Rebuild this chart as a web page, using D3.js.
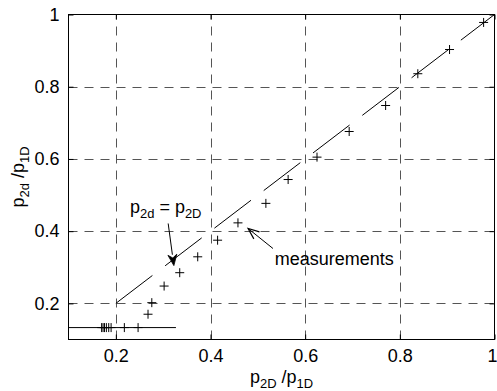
<!DOCTYPE html>
<html>
<head>
<meta charset="utf-8">
<script src="https://cdn.jsdelivr.net/npm/d3@7"></script>
<style>
  body { margin: 0; background: #fff; }
  svg text { font-family: Arial, "Liberation Sans", Helvetica, sans-serif; fill: #000; }
</style>
</head>
<body>
<svg id="chart" width="497" height="391"></svg>
<script>
// Measured normalised probabilities: p2D/p1D (x) against p2d/p1D (y)
const ratio2D = [0.170, 0.173, 0.176, 0.180, 0.185, 0.190, 0.218, 0.247, 0.268, 0.276, 0.302,
                 0.335, 0.373, 0.415, 0.458, 0.517, 0.564, 0.625, 0.693, 0.770, 0.838, 0.905, 0.977];
const ratio2d = [0.133, 0.133, 0.133, 0.133, 0.133, 0.133, 0.133, 0.133, 0.170, 0.202, 0.248,
                 0.285, 0.329, 0.375, 0.423, 0.477, 0.543, 0.605, 0.676, 0.748, 0.836, 0.903, 0.978];

// Reference line p2d = p2D and the lower floor level
const identityRange = [0.2, 1.0];
const floorLevel = 0.133;
const floorRange = [0.1, 0.327];

const xTicks = [0.2, 0.4, 0.6, 0.8, 1];
const yTicks = [0.2, 0.4, 0.6, 0.8, 1];
const xTickLabels = ["0.2", "0.4", "0.6", "0.8", "1"];
const yTickLabels = ["0.2", "0.4", "0.6", "0.8", "1"];

const svg = d3.select("#chart");
const L = 68.5, R = 494.5, T = 14.5, B = 339.5;

const x = d3.scaleLinear().domain([0.1, 1]).range([L, R]);
const y = d3.scaleLinear().domain([0.1, 1]).range([B, T]);

const FONT = 18;

// grid
const grid = svg.append("g")
  .attr("stroke", "#555").attr("stroke-width", 1).attr("stroke-dasharray", "9,7");
grid.selectAll(".gx").data(xTicks.filter(d => d < 1)).join("line")
  .attr("x1", d => Math.round(x(d)) + 0.5).attr("x2", d => Math.round(x(d)) + 0.5)
  .attr("y1", B).attr("y2", T);
grid.selectAll(".gy").data(yTicks.filter(d => d < 1)).join("line")
  .attr("y1", d => Math.round(y(d)) + 0.5).attr("y2", d => Math.round(y(d)) + 0.5)
  .attr("x1", L).attr("x2", R);

// axes: bottom/left with labels, top/right mirrored ticks
const tick = 5;
const xAxis = d3.axisBottom(x).tickValues(xTicks).tickSizeInner(-tick).tickSizeOuter(0)
  .tickFormat((d, i) => xTickLabels[i]).tickPadding(10);
const yAxis = d3.axisLeft(y).tickValues(yTicks).tickSizeInner(-tick).tickSizeOuter(0)
  .tickFormat((d, i) => yTickLabels[i]).tickPadding(9);
const xAxisTop = d3.axisTop(x).tickValues(xTicks).tickSizeInner(-tick).tickSizeOuter(0).tickFormat("");
const yAxisRight = d3.axisRight(y).tickValues(yTicks).tickSizeInner(-tick).tickSizeOuter(0).tickFormat("");

function styleAxis(g) {
  g.select(".domain").remove();
  g.selectAll(".tick line").attr("stroke", "#000");
  g.selectAll(".tick text").attr("font-size", FONT).attr("fill", "#000")
    .attr("font-family", 'Arial, "Liberation Sans", Helvetica, sans-serif');
}
const gxAxis = svg.append("g").attr("transform", `translate(0,${B})`).call(xAxis).call(styleAxis);
// keep the last label inside the page edge
gxAxis.selectAll(".tick text").filter(d => d === 1)
  .attr("text-anchor", "end").attr("x", 497 - R);
svg.append("g").attr("transform", `translate(${L},0)`).call(yAxis).call(styleAxis);
svg.append("g").attr("transform", `translate(0,${T})`).call(xAxisTop).call(styleAxis);
svg.append("g").attr("transform", `translate(${R},0)`).call(yAxisRight).call(styleAxis);

// box
svg.append("rect").attr("x", L).attr("y", T).attr("width", R - L).attr("height", B - T)
  .attr("fill", "none").attr("stroke", "#000").attr("stroke-width", 1);

// p2d = p2D line (long dashes)
svg.append("line")
  .attr("x1", x(identityRange[0])).attr("y1", y(identityRange[0]))
  .attr("x2", x(identityRange[1])).attr("y2", y(identityRange[1]))
  .attr("stroke", "#000").attr("stroke-width", 1).attr("stroke-dasharray", "46,16");

// floor level line
svg.append("line")
  .attr("x1", x(floorRange[0])).attr("x2", x(floorRange[1]))
  .attr("y1", y(floorLevel)).attr("y2", y(floorLevel))
  .attr("stroke", "#000").attr("stroke-width", 1);

// measurement markers "+"
const pts = ratio2D.map((v, i) => [v, ratio2d[i]]);
const m = 4.5;
svg.append("g").selectAll("path").data(pts).join("path")
  .attr("d", d => {
    const px = x(d[0]), py = y(d[1]);
    return `M${px - m},${py}H${px + m}M${px},${py - m}V${py + m}`;
  })
  .attr("stroke", "#000").attr("stroke-width", 1).attr("fill", "none");

// annotations
function arrow(tail, tip, filled) {
  const x0 = x(tail[0]), y0 = y(tail[1]), x1 = x(tip[0]), y1 = y(tip[1]);
  const a = Math.atan2(y1 - y0, x1 - x0);
  const len = 11, hw = 4.5;
  const bx = x1 - len * Math.cos(a), by = y1 - len * Math.sin(a);
  const px = -Math.sin(a), py = Math.cos(a);
  const g = svg.append("g");
  g.append("line").attr("x1", x0).attr("y1", y0).attr("x2", filled ? bx : x1).attr("y2", filled ? by : y1)
    .attr("stroke", "#000").attr("stroke-width", 1);
  if (filled) {
    const nx = x1 - 0.7 * len * Math.cos(a), ny = y1 - 0.7 * len * Math.sin(a);
    g.append("path")
      .attr("d", `M${x1},${y1}L${bx + hw * px},${by + hw * py}L${nx},${ny}L${bx - hw * px},${by - hw * py}Z`)
      .attr("fill", "#000").attr("stroke", "#000").attr("stroke-width", 0.8);
  } else {
    g.append("path")
      .attr("d", `M${bx + hw * px},${by + hw * py}L${x1},${y1}L${bx - hw * px},${by - hw * py}`)
      .attr("fill", "none").attr("stroke", "#000").attr("stroke-width", 1.2);
  }
}

function subText(xv, yv, parts, size) {
  const t = svg.append("text").attr("x", x(xv)).attr("y", y(yv)).attr("font-size", size);
  parts.forEach(p => {
    const s = t.append("tspan").text(p.t);
    if (p.sub) s.attr("font-size", size * 0.72).attr("dy", 5);
    else if (p.after) s.attr("dy", -5);
  });
  return t;
}

subText(0.2298, 0.449, [{t: "p"}, {t: "2d", sub: true}, {t: " = p", after: true}, {t: "2D", sub: true}], FONT);
arrow([0.3106, 0.4213], [0.3226, 0.3046], true);

svg.append("text").attr("x", x(0.5358)).attr("y", y(0.306)).attr("font-size", FONT).text("measurements");
arrow([0.532, 0.352], [0.4794, 0.4074], false);

// axis titles
const xt = svg.append("text").attr("x", (L + R) / 2).attr("y", 383)
  .attr("text-anchor", "middle").attr("font-size", FONT);
xt.append("tspan").text("p");
xt.append("tspan").text("2D").attr("font-size", FONT * 0.72).attr("dy", 5);
xt.append("tspan").text(" /p").attr("dy", -5);
xt.append("tspan").text("1D").attr("font-size", FONT * 0.72).attr("dy", 5);

const yt = svg.append("text")
  .attr("transform", `translate(24,${(T + B) / 2}) rotate(-90)`)
  .attr("text-anchor", "middle").attr("font-size", FONT);
yt.append("tspan").text("p");
yt.append("tspan").text("2d").attr("font-size", FONT * 0.72).attr("dy", 5);
yt.append("tspan").text(" /p").attr("dy", -5);
yt.append("tspan").text("1D").attr("font-size", FONT * 0.72).attr("dy", 5);
</script>
</body>
</html>
